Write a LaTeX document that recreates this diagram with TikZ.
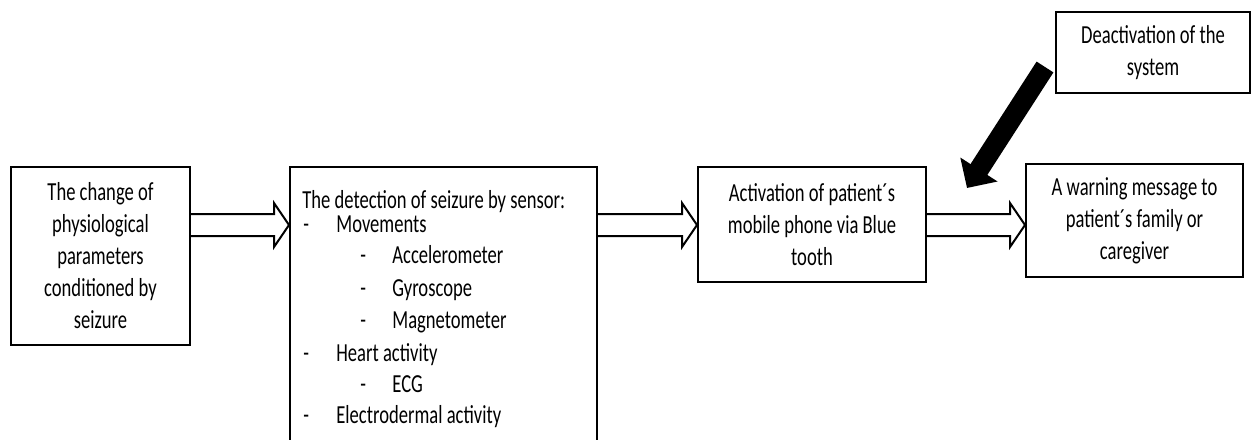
\documentclass[tikz,border=0pt]{standalone}
\usepackage{fontspec}
\setmainfont{Carlito}[FakeStretch=0.715]
\usetikzlibrary{calc,arrows.meta}
\tikzset{
  box/.style={draw=black, line width=1pt, fill=white, inner sep=0pt, align=center,
    font=\fontsize{13}{16}\selectfont},
  line/.style={inner sep=0pt, anchor=base west, font=\fontsize{13}{16}\selectfont},
  hollow/.style={draw=black, line width=1pt, fill=white, line join=miter},
  solidarrow/.style={draw=black, line width=10pt, -{Triangle[length=11pt,width=21.5pt]}}
}
\newcommand\hollowarrow[2]{%
  \draw[hollow] ($(#1)+(0,-11)$) -- ($(#2)+(-15,-11)$) -- ($(#2)+(-15,-22)$) -- (#2)
    -- ($(#2)+(-15,22)$) -- ($(#2)+(-15,11)$) -- ($(#1)+(0,11)$);}
\begin{document}
\begin{tikzpicture}[x=0.5pt,y=-0.5pt]
\useasboundingbox (0,0) rectangle (1252,439);
\fill[white] (0,0) rectangle (1252,439);
\clip (0,0) rectangle (1252,439);

\node[box, minimum width=89.5pt, minimum height=89pt] (b1) at (100.5,256)
  {The change of\\physiological\\parameters\\conditioned by\\seizure};
\node[box, minimum width=153.5pt, minimum height=156.5pt] (b2) at (443.5,323.5) {};
\node[box, minimum width=114pt, minimum height=57.5pt] (b3) at (812,224.5)
  {Activation of patient´s\\mobile phone via Blue\\tooth};
\node[box, minimum width=108.5pt, minimum height=56.5pt] (b4) at (1134.5,220.5)
  {A warning message to\\patient´s family or\\caregiver};
\node[box, minimum width=97pt, minimum height=40.5pt] (b5) at (1153,52.5)
  {Deactivation of the\\system};

% list inside box 2
\node[line] (t0) at (302,208) {The detection of seizure by sensor:};
\node[line] (d1) at (303,232) {-};
\node[line] (t1) at (336,232) {Movements};
\node[line] (d2) at (360,263) {-};
\node[line] (t2) at (392,263) {Accelerometer};
\node[line] (d3) at (360,296) {-};
\node[line] (t3) at (392,296) {Gyroscope};
\node[line] (d4) at (360,328) {-};
\node[line] (t4) at (392,328) {Magnetometer};
\node[line] (d5) at (303,361) {-};
\node[line] (t5) at (336,361) {Heart activity};
\node[line] (d6) at (360,392) {-};
\node[line] (t6) at (392,392) {ECG};
\node[line] (d7) at (303,423) {-};
\node[line] (t7) at (336,423) {Electrodermal activity};

% hollow block arrows
\coordinate (a1s) at (b1.east |- 0,225);
\coordinate (a1e) at (b2.west |- 0,225);
\coordinate (a2s) at (b2.east |- 0,225);
\coordinate (a2e) at (b3.west |- 0,225);
\coordinate (a3s) at (b3.east |- 0,225);
\coordinate (a3e) at (b4.west |- 0,225);
\hollowarrow{a1s}{a1e}
\hollowarrow{a2s}{a2e}
\hollowarrow{a3s}{a3e}

% solid black arrow from deactivation box
\coordinate (dtail) at (1045,67);
\coordinate (dtip) at (967,188);
\draw[solidarrow] (dtail) -- (dtip);
\end{tikzpicture}
\end{document}
